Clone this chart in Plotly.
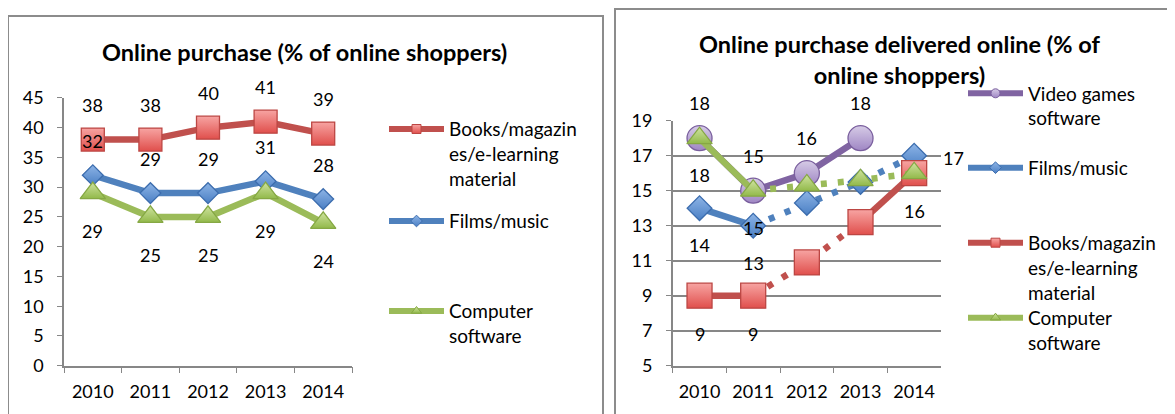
import plotly.graph_objects as go

# ---------------- data ----------------
years = ["2010", "2011", "2012", "2013", "2014"]

# Left chart: Online purchase (% of online shoppers)
left_books = [38, 38, 40, 41, 39]
left_films = [32, 29, 29, 31, 28]
left_software = [29, 25, 25, 29, 24]

# Right chart: Online purchase delivered online (% of online shoppers)
right_video = [18, 15, 16, 18, None]
right_films = [14, 13, 14.3, 15.5, 17]
right_books = [9, 9, 10.9, 13.2, 16]
right_software = [18, 15, 15.3, 15.6, 16]

right_video_labels = ["18", "15", "16", "18", None]
right_films_labels = ["14", "13", None, None, "17"]
right_books_labels = ["9", "9", None, None, "16"]
right_software_labels = ["18", "15", None, None, None]

left_y_ticks = [0, 5, 10, 15, 20, 25, 30, 35, 40, 45]
right_y_ticks = [5, 7, 9, 11, 13, 15, 17, 19]

# ---------------- styling ----------------
W, H = 1175, 414
OFF = 8  # page body margin of the exported html
FONT = "Lato, 'Open Sans', sans-serif"
AX = "#878787"


def px(x):
    return (x - OFF) / W


def py(y):
    return 1 - (y - OFF) / H


STY = {
    "books": dict(line="#C0504D", fill="#F7A4A2", grad="#E04F4C", edge="#BC4643", symbol="square"),
    "films": dict(line="#4F81BD", fill="#8DB4E6", grad="#4A7FC4", edge="#3C6DAE", symbol="diamond"),
    "software": dict(line="#9BBB59", fill="#CFE3A0", grad="#92B94A", edge="#86A844", symbol="triangle-up"),
    "video": dict(line="#8064A2", fill="#D6CBE6", grad="#9F86C4", edge="#7A5F9E", symbol="circle"),
}

fig = go.Figure()


def add_series(key, values, gap_styles, msize, xa, ya):
    s = STY[key]
    i = 0
    n = len(gap_styles)
    while i < n:
        st = gap_styles[i]
        j = i
        while j + 1 < n and gap_styles[j + 1] == st:
            j += 1
        if st is not None:
            fig.add_trace(go.Scatter(
                x=years[i:j + 2], y=values[i:j + 2], mode="lines",
                line=dict(color=s["line"], width=6.5,
                          dash="solid" if st == "solid" else "6px,11px"),
                xaxis=xa, yaxis=ya, showlegend=False, hoverinfo="skip"))
        i = j + 1
    fig.add_trace(go.Scatter(
        x=years, y=values, mode="markers",
        marker=dict(symbol=s["symbol"], size=msize, color=s["fill"],
                    gradient=dict(type="vertical", color=s["grad"]),
                    line=dict(color=s["edge"], width=1.3)),
        xaxis=xa, yaxis=ya, showlegend=False, hoverinfo="skip"))


def add_legend_entry(key, name, legend_id, xa, ya):
    s = STY[key]
    fig.add_trace(go.Scatter(
        x=[None], y=[None], mode="lines+markers", name=name,
        line=dict(color=s["line"], width=6),
        marker=dict(symbol=s["symbol"], size=9, color=s["fill"],
                    gradient=dict(type="vertical", color=s["grad"]),
                    line=dict(color=s["edge"], width=1)),
        xaxis=xa, yaxis=ya, legend=legend_id, showlegend=True, hoverinfo="skip"))


def add_labels(values, labels, xa, ya, yshift, xshift=0, only=None):
    for k, (v, t) in enumerate(zip(values, labels)):
        if t is None or v is None:
            continue
        if only is not None and k not in only:
            continue
        # category axes: annotation x is the category's serial number
        fig.add_annotation(x=years.index(years[k]), y=v, xref=xa, yref=ya, text=t,
                           showarrow=False, yshift=yshift, xshift=xshift,
                           font=dict(family=FONT, size=18, color="#000000"))


# ---------- left chart ----------
add_series("books", left_books, ["solid"] * 4, 23, "x", "y")
add_series("films", left_films, ["solid"] * 4, 16, "x", "y")
add_series("software", left_software, ["solid"] * 4, 22, "x", "y")

add_labels(left_books, [str(v) for v in left_books], "x", "y", 34.5)
add_labels(left_films, [str(v) for v in left_films], "x", "y", 34.5)
add_labels(left_software, [str(v) for v in left_software], "x", "y", -38)

# ---------- right chart ----------
add_series("video", right_video, ["solid", "solid", "solid", None], 25, "x2", "y2")
add_series("films", right_films, ["solid", "dot", "dot", "dot"], 19, "x2", "y2")
add_series("books", right_books, ["solid", "dot", "dot", "solid"], 25, "x2", "y2")
add_series("software", right_software, ["solid", "dot", "dot", "dot"], 22, "x2", "y2")

add_labels(right_video, right_video_labels, "x2", "y2", 35)
add_labels(right_films, right_films_labels, "x2", "y2", -37, only=[0, 1])
add_labels(right_films, right_films_labels, "x2", "y2", -2, xshift=39, only=[4])
add_labels(right_books, right_books_labels, "x2", "y2", -38)
add_labels(right_software, right_software_labels, "x2", "y2", -37)

# ---------- legends ----------
LEG_FS = 19
LH = LEG_FS * 1.3
LEG_OFF = 6.5 + LH / 2

add_legend_entry("books", "Books/magazin<br>es/e-learning<br>material", "legend", "x", "y")
add_legend_entry("films", "Films/music", "legend2", "x", "y")
add_legend_entry("software", "Computer<br>software", "legend3", "x", "y")
add_legend_entry("video", "Video games<br>software", "legend4", "x2", "y2")
add_legend_entry("films", "Films/music", "legend5", "x2", "y2")
add_legend_entry("books", "Books/magazin<br>es/e-learning<br>material", "legend6", "x2", "y2")
add_legend_entry("software", "Computer<br>software", "legend7", "x2", "y2")


def legend_cfg(xline, ysym):
    return dict(x=px(xline - 5), y=py(ysym - LEG_OFF), xanchor="left", yanchor="top",
                bgcolor="rgba(0,0,0,0)", borderwidth=0, itemwidth=55, valign="top",
                font=dict(family=FONT, size=LEG_FS, color="#000000"),
                itemclick=False, itemdoubleclick=False)


common_x = dict(type="category", categoryorder="array", categoryarray=years,
                range=[-0.5, 4.5], tickson="boundaries", ticks="outside", ticklen=6,
                tickcolor=AX, tickwidth=1.3, showline=True, linecolor=AX, linewidth=1.5,
                showgrid=False, zeroline=False, fixedrange=True, ticklabelstandoff=9,
                automargin=False,
                tickfont=dict(family=FONT, size=18, color="#000000"))
common_y = dict(ticks="outside", ticklen=5, tickcolor=AX, tickwidth=1.3, showline=True,
                linecolor=AX, linewidth=1.5, zeroline=False, fixedrange=True,
                ticklabelstandoff=10, automargin=False,
                tickfont=dict(family=FONT, size=18, color="#000000"))

fig.update_layout(
    width=W, height=H, margin=dict(l=0, r=0, t=0, b=0, pad=0, autoexpand=False),
    paper_bgcolor="white", plot_bgcolor="rgba(0,0,0,0)",
    xaxis=dict(domain=[px(64), px(352)], anchor="y", **common_x),
    yaxis=dict(domain=[py(365.7), py(97.9)], anchor="x", range=[0, 45],
               tickvals=left_y_ticks, showgrid=False, **common_y),
    xaxis2=dict(domain=[px(672.7), px(941)], anchor="y2", **common_x),
    yaxis2=dict(domain=[py(365.7), py(120.7)], anchor="x2", range=[5, 19],
                tickvals=right_y_ticks, showgrid=True, gridcolor=AX, gridwidth=1.5,
                **common_y),
    legend=legend_cfg(389, 129),
    legend2=legend_cfg(389, 221),
    legend3=legend_cfg(389, 311),
    legend4=legend_cfg(968, 93.3),
    legend5=legend_cfg(968, 167.7),
    legend6=legend_cfg(968, 242.7),
    legend7=legend_cfg(968, 317.7),
    showlegend=True,
    hovermode=False,
)

# chart frames
fig.add_shape(type="rect", xref="paper", yref="paper", x0=px(8), x1=px(603),
              y0=py(16), y1=-0.2, line=dict(color="#8C8C8C", width=2), layer="below")
fig.add_shape(type="rect", xref="paper", yref="paper", x0=px(615), x1=1.2,
              y0=py(9), y1=-0.2, line=dict(color="#8C8C8C", width=2), layer="below")

# titles
fig.add_annotation(xref="paper", yref="paper", x=px(304), y=py(52), xanchor="center",
                   yanchor="middle", showarrow=False,
                   text="<b>Online purchase (% of online shoppers)</b>",
                   font=dict(family=FONT, size=23.5, color="#000000"))
fig.add_annotation(xref="paper", yref="paper", x=px(899), y=py(59.5), xanchor="center",
                   yanchor="middle", showarrow=False,
                   text="<b>Online purchase delivered online (% of<br>online shoppers)</b>",
                   font=dict(family=FONT, size=23.5, color="#000000"))

fig.write_html("out.html")
